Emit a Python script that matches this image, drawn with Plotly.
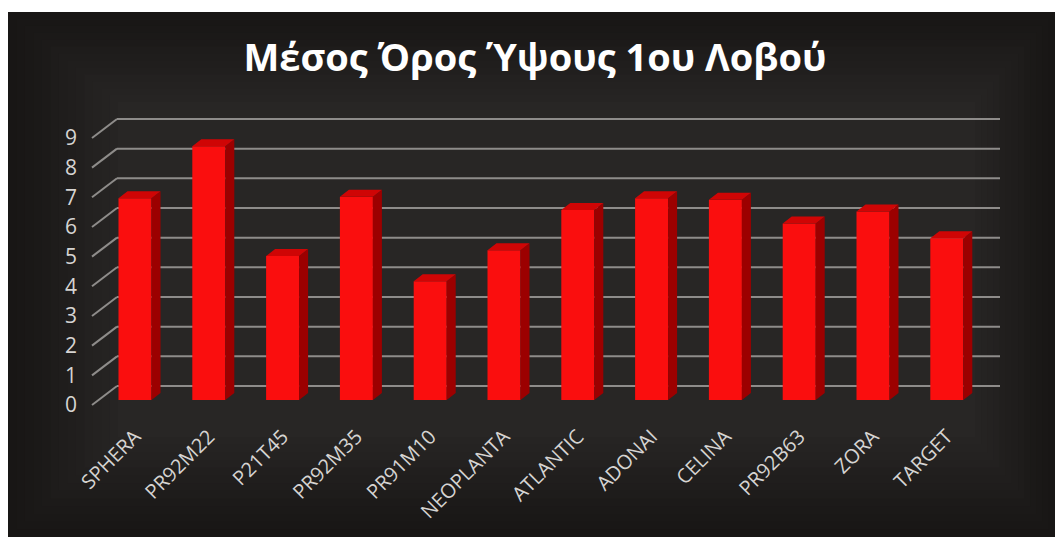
import plotly.graph_objects as go

# ---------------- data ----------------
categories = ["SPHERA", "PR92M22", "P21T45", "PR92M35", "PR91M10", "NEOPLANTA",
              "ATLANTIC", "ADONAI", "CELINA", "PR92B63", "ZORA", "TARGET"]
values = [6.8, 8.55, 4.85, 6.85, 4.0, 5.05, 6.4, 6.8, 6.75, 5.95, 6.35, 5.45]
y_ticks = list(range(0, 10))
title_text = "Μέσος Όρος Ύψους 1ου Λοβού"

# ---------------- geometry (pixels) ----------------
W, H = 1055, 537
L, R, T, B = 78, 1010, 100, 420
x0px, xstep = 135.0, 73.8          # pixel of first category, spacing
y0px, ystep = 405.0, 29.67         # pixel of value 0 (front plane), px per unit

def dxu(px):
    return px / xstep

def dyu(px):
    return px / ystep

def px_x(p):
    return (p - L) / (R - L)

def px_y(p):
    return (B - p) / (B - T)

xr_lo, xr_hi = (L - x0px) / xstep, (R - x0px) / xstep
yr_lo, yr_hi = (y0px - B) / ystep, (y0px - T) / ystep

# wall depth offsets
wall_dx, wall_dy = dxu(25), dyu(19)
front_left_x = (92 - x0px) / xstep
back_right_x = (1000 - x0px) / xstep

# bar depth offsets
bar_base = dyu(5)
bar_w = dxu(33)
bdx, bdy = dxu(9), dyu(7)

idx = list(range(len(categories)))

fig = go.Figure()

sx, sy = [], []   # side faces
tx, ty = [], []   # top faces
for i, v in zip(idx, values):
    xl, xr = i - bar_w / 2, i + bar_w / 2
    top = bar_base + v
    sx += [xr, xr, xr + bdx, xr + bdx, xr, None]
    sy += [bar_base, top, top + bdy, bar_base + bdy, bar_base, None]
    tx += [xl, xr, xr + bdx, xl + bdx, xl, None]
    ty += [top, top, top + bdy, top + bdy, top, None]

fig.add_trace(go.Scatter(x=sx, y=sy, mode="lines", fill="toself",
                         fillcolor="#9c0000", line=dict(width=0, color="#9c0000"),
                         hoverinfo="skip", showlegend=False))
fig.add_trace(go.Scatter(x=tx, y=ty, mode="lines", fill="toself",
                         fillcolor="#cf0505", line=dict(width=0, color="#cf0505"),
                         hoverinfo="skip", showlegend=False))
fig.add_trace(go.Bar(x=idx, y=values, base=bar_base, width=bar_w,
                     marker=dict(color="#fa0e0e", line=dict(width=0)),
                     showlegend=False))

shapes = []
# white page
shapes.append(dict(type="rect", xref="paper", yref="paper",
                   x0=px_x(0), x1=px_x(W), y0=px_y(H), y1=px_y(0),
                   fillcolor="white", line=dict(width=0), layer="below"))
# dark chart panel with a soft vignette (many small steps)
n_steps = 14
for s in range(n_steps):
    f = s / (n_steps - 1)
    a = 8 + f * 110
    b = 12 + f * 90
    c = W - f * 80
    d = H - f * 100
    lvl = int(24 + f * 16)
    col = "rgb(%d,%d,%d)" % (lvl, lvl - 2, lvl - 3)
    shapes.append(dict(type="rect", xref="paper", yref="paper",
                       x0=px_x(a), x1=px_x(c), y0=px_y(d), y1=px_y(b),
                       fillcolor=col, line=dict(width=0), layer="below"))
# grid lines: side wall diagonals + back wall horizontals
for k in y_ticks:
    shapes.append(dict(type="line", xref="x", yref="y",
                       x0=front_left_x, y0=k, x1=front_left_x + wall_dx, y1=k + wall_dy,
                       line=dict(color="#8e8c8a", width=2), layer="below"))
    shapes.append(dict(type="line", xref="x", yref="y",
                       x0=front_left_x + wall_dx, y0=k + wall_dy, x1=back_right_x, y1=k + wall_dy,
                       line=dict(color="#8e8c8a", width=2), layer="below"))

fig.update_layout(
    width=W, height=H,
    margin=dict(l=L, r=W - R, t=T, b=H - B, pad=0),
    paper_bgcolor="#1b1918",
    plot_bgcolor="rgba(0,0,0,0)",
    shapes=shapes,
    showlegend=False,
    title=dict(text="<b>" + title_text + "</b>", xref="container", yref="container",
               x=535 / W, xanchor="center", y=1 - 58 / H, yanchor="middle",
               font=dict(family="Open Sans", size=38, color="white")),
    xaxis=dict(range=[xr_lo, xr_hi], tickmode="array", tickvals=idx, ticktext=categories,
               tickangle=-45, showgrid=False, zeroline=False, showline=False, ticks="",
               tickfont=dict(family="Open Sans", size=20, color="#d6d4d2")),
    yaxis=dict(range=[yr_lo, yr_hi], tickmode="array", tickvals=y_ticks,
               ticktext=[str(t) for t in y_ticks], showgrid=False, zeroline=False,
               showline=False, ticks="",
               tickfont=dict(family="Open Sans", size=21, color="#d6d4d2")),
)

fig.write_html("out.html")
